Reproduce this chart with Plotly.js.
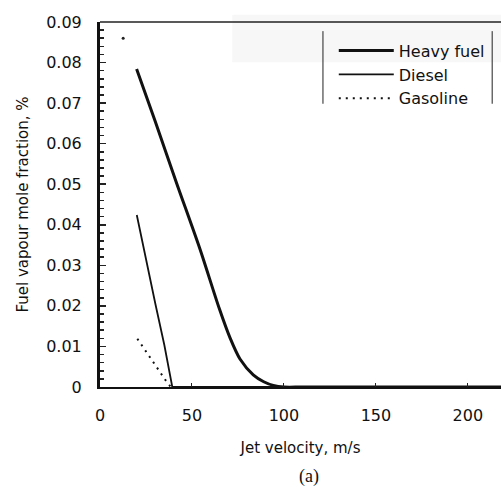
<!DOCTYPE html>
<html><head><meta charset="utf-8">
<script src="https://cdn.plot.ly/plotly-3.0.1.min.js"></script>
<style>html,body{margin:0;padding:0;background:#fff}#c{width:501px;height:487px}</style>
</head><body><div id="c"></div>
<script>
const heavyX = [19.9, 30, 41.7, 54.2, 64.8, 70.7, 76.1, 83.3, 89, 94.2, 100, 110, 150, 218];
const heavyY = [0.0784, 0.0655, 0.0502, 0.0342, 0.0194, 0.0121, 0.0069, 0.0030, 0.0013, 0.0004, 0, 0, 0, 0];
const dieselX = [20, 25, 30, 35, 39.3, 100, 218];
const dieselY = [0.0424, 0.0312, 0.0207, 0.0103, 0, 0, 0];
const gasX = [20.3, 25, 30, 35.9, 38.5];
const gasY = [0.0119, 0.0087, 0.0054, 0.0015, 0];
const strayX = [12.6];
const strayY = [0.086];
const yTickVals = [0, 0.01, 0.02, 0.03, 0.04, 0.05, 0.06, 0.07, 0.08, 0.09];
const yTickText = ['0', '0.01', '0.02', '0.03', '0.04', '0.05', '0.06', '0.07', '0.08', '0.09'];
const xTickVals = [0, 50, 100, 150, 200];
const xTickText = ['0', '50', '100', '150', '200'];

const traces = [
  {x: heavyX, y: heavyY, name: 'Heavy fuel', mode: 'lines', line: {color: '#111', width: 3, shape: 'spline', smoothing: 0.8}},
  {x: dieselX, y: dieselY, name: 'Diesel', mode: 'lines', line: {color: '#111', width: 1.8}},
  {x: gasX, y: gasY, name: 'Gasoline', mode: 'lines', line: {color: '#111', width: 2, dash: '2px,5px'}},
  {x: strayX, y: strayY, mode: 'markers', marker: {color: '#222', size: 3}, showlegend: false, hoverinfo: 'skip'}
];

const layout = {
  width: 501, height: 487,
  margin: {l: 100, r: 0, t: 22, b: 100},
  paper_bgcolor: '#fff', plot_bgcolor: '#fff',
  font: {family: 'DejaVu Sans, sans-serif', color: '#111', size: 15},
  showlegend: true,
  legend: {x: 0.583, y: 0.968, xanchor: 'left', yanchor: 'top', bgcolor: 'rgba(255,255,255,0)',
           borderwidth: 0, font: {size: 16, color: '#111'}, itemwidth: 55, tracegroupgap: 0},
  xaxis: {range: [0, 218], tickvals: xTickVals, ticktext: xTickText, ticks: 'inside', ticklen: 4,
          tickcolor: '#222', showgrid: false, zeroline: false, showline: true, linecolor: '#111', linewidth: 2,
          tickfont: {size: 16}, ticklabelstandoff: 13,
          title: {text: 'Jet velocity, m/s', font: {size: 15}, standoff: 18}},
  yaxis: {range: [0, 0.09], tickvals: yTickVals, ticktext: yTickText, ticks: 'inside', ticklen: 6,
          tickcolor: '#222', tickwidth: 1.5, showgrid: false, zeroline: false, showline: true, linecolor: '#111', linewidth: 3,
          minor: {dtick: 0.002, ticks: 'inside', ticklen: 4, tickcolor: '#222', tickwidth: 1.5},
          tickfont: {size: 16}, ticklabelstandoff: 12,
          title: {text: 'Fuel vapour mole fraction, %', font: {size: 15}, standoff: 14}},
  shapes: [
    {type: 'rect', xref: 'paper', yref: 'paper', x0: 0.33, x1: 1, y0: 0.89, y1: 1.02, fillcolor: '#f7f7f7', line: {width: 0}, layer: 'below'},
    {type: 'line', xref: 'paper', yref: 'paper', x0: 0, x1: 1, y0: 1, y1: 1, line: {color: '#222', width: 1.5}},
    {type: 'line', xref: 'paper', yref: 'paper', x0: 0.556, x1: 0.556, y0: 0.776, y1: 0.975, line: {color: '#222', width: 1}},
    {type: 'line', xref: 'paper', yref: 'paper', x0: 0.978, x1: 0.978, y0: 0.776, y1: 0.975, line: {color: '#222', width: 1}}
  ],
  annotations: [
    {text: '(a)', xref: 'paper', yref: 'paper', x: 0.52, y: -0.244, xanchor: 'center', yanchor: 'middle', showarrow: false,
     font: {family: 'Liberation Serif, serif', size: 18}}
  ]
};
Plotly.newPlot('c', traces, layout, {displayModeBar: false, staticPlot: true});
</script></body></html>
